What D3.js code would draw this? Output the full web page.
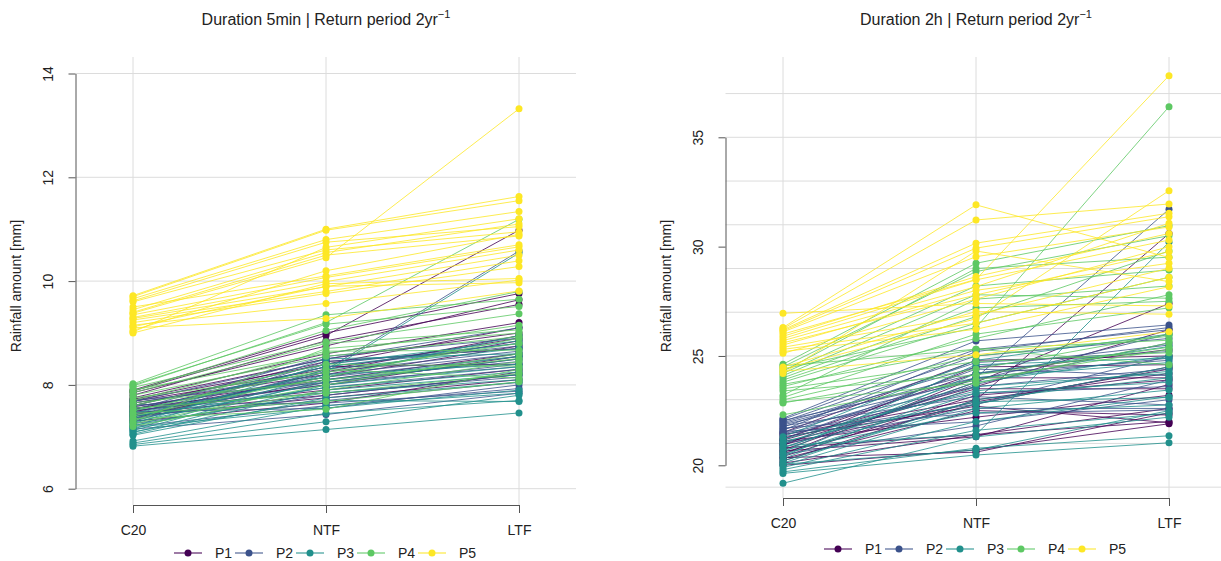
<!DOCTYPE html>
<html>
<head>
<meta charset="utf-8">
<script src="https://cdn.jsdelivr.net/npm/d3@7"></script>
<style>
  body { margin: 0; background: #fff; }
  svg { display: block; font-family: "Liberation Sans", Arial, sans-serif; }
</style>
</head>
<body>
<div id="chart"></div>
<script>
// categories on the x axis and the five groups
const categories = ["C20", "NTF", "LTF"];
const groups = ["P1", "P2", "P3", "P4", "P5"];
const groupColors = ["#440154", "#3B528B", "#21908C", "#5DC863", "#FDE725"];

// Duration 5min: one row per site, [C20, NTF, LTF] in mm
const d5min_P1 = [
  [7.90, 9.00, 9.76], [7.88, 8.95, 10.98], [7.85, 8.75, 9.64], [7.80, 8.85, 9.55], [7.75, 8.60, 9.20],
  [7.72, 8.50, 9.00], [7.70, 8.40, 9.10], [7.68, 8.30, 8.90], [7.65, 8.20, 8.85], [7.60, 8.45, 8.70],
  [7.58, 8.10, 8.60], [7.55, 8.00, 8.55], [7.52, 8.35, 8.40], [7.50, 7.90, 8.30], [7.48, 8.15, 8.75],
  [7.45, 7.80, 8.20], [7.42, 8.05, 8.50], [7.40, 7.75, 8.10], [7.35, 8.25, 8.95], [7.30, 7.65, 8.25]
];
const d5min_P2 = [
  [7.15, 7.43, 7.84], [7.20, 7.60, 7.93], [7.25, 7.80, 8.20], [7.30, 8.29, 10.58], [7.32, 8.45, 8.70],
  [7.35, 7.95, 8.30], [7.38, 8.10, 8.45], [7.40, 7.70, 8.05], [7.42, 8.20, 8.60], [7.45, 8.35, 8.75],
  [7.48, 7.55, 8.00], [7.50, 8.00, 8.40], [7.52, 8.55, 8.90], [7.55, 7.85, 8.15], [7.58, 8.15, 8.55],
  [7.60, 8.40, 8.80], [7.62, 7.65, 7.88], [7.65, 8.25, 8.65], [7.68, 8.50, 9.10], [7.70, 8.05, 8.35]
];
const d5min_P3 = [
  [6.82, 7.14, 7.46], [6.85, 7.29, 7.80], [6.88, 7.45, 7.70], [6.92, 7.60, 7.84], [7.03, 7.75, 8.05],
  [7.05, 7.90, 8.20], [7.08, 8.00, 8.35], [7.10, 7.70, 7.68], [7.12, 8.10, 8.55], [7.15, 8.20, 8.40],
  [7.18, 7.55, 7.90], [7.20, 8.30, 8.70], [7.22, 7.85, 8.10], [7.25, 8.40, 8.85], [7.28, 8.05, 8.50],
  [7.30, 8.25, 10.54], [7.35, 8.50, 8.60], [7.40, 7.95, 8.25], [7.45, 8.15, 8.95], [7.50, 8.35, 8.80]
];
const d5min_P4 = [
  [8.02, 9.35, 9.65], [8.00, 9.17, 9.51], [7.98, 9.20, 11.19], [7.95, 8.83, 9.37], [7.90, 8.61, 9.15],
  [7.85, 8.80, 9.06], [7.80, 8.55, 8.93], [7.75, 8.24, 8.80], [7.70, 8.65, 8.67], [7.65, 8.09, 8.51],
  [7.60, 8.40, 8.36], [7.55, 7.84, 8.22], [7.50, 8.30, 8.13], [7.45, 7.68, 8.06], [7.40, 8.15, 8.90],
  [7.35, 7.53, 8.30], [7.30, 8.70, 9.00], [7.25, 8.00, 8.60], [7.20, 7.90, 8.45], [7.88, 9.05, 9.80]
];
const d5min_P5 = [
  [9.72, 11.00, 11.63], [9.70, 10.98, 11.55], [9.66, 10.80, 11.34], [9.62, 10.75, 11.05], [9.60, 10.60, 10.95],
  [9.45, 10.55, 11.10], [9.40, 10.50, 10.87], [9.38, 10.45, 13.32], [9.35, 10.07, 10.66], [9.30, 9.99, 10.60],
  [9.28, 9.89, 10.50], [9.25, 9.80, 10.39], [9.20, 9.76, 10.28], [9.15, 9.57, 10.02], [9.12, 9.90, 9.97],
  [9.10, 9.28, 9.81], [9.05, 10.20, 10.90], [9.02, 10.65, 11.20], [9.50, 10.10, 10.70], [9.00, 9.95, 10.05]
];

// Duration 2h
const d2h_P1 = [
  [20.00, 20.70, 21.90], [20.10, 21.39, 22.00], [20.20, 22.99, 30.60], [20.30, 22.50, 22.30], [20.40, 23.20, 23.90],
  [20.50, 24.00, 24.00], [20.60, 22.80, 24.50], [20.70, 23.80, 27.40], [20.80, 21.40, 22.60], [20.90, 24.50, 24.60],
  [21.00, 23.50, 23.50], [21.10, 22.20, 23.20], [21.20, 24.20, 25.30], [21.30, 22.70, 21.95], [21.40, 23.00, 24.20],
  [21.50, 24.80, 25.00], [20.35, 20.60, 22.40], [20.65, 21.30, 23.70], [20.95, 22.90, 24.40], [21.15, 23.60, 26.20]
];
const d2h_P2 = [
  [22.15, 25.69, 26.42], [22.10, 25.30, 26.20], [22.05, 24.00, 31.71], [22.00, 25.00, 25.80], [21.95, 24.50, 25.50],
  [21.90, 24.20, 24.80], [21.85, 23.90, 26.00], [21.80, 23.14, 22.76], [21.75, 24.70, 25.20], [21.70, 22.38, 22.53],
  [21.65, 23.60, 24.40], [21.60, 25.20, 26.30], [21.55, 21.99, 23.00], [21.50, 24.00, 24.90], [21.45, 23.30, 23.60],
  [21.40, 22.80, 25.00], [21.20, 24.40, 24.10], [21.00, 22.60, 22.60], [20.80, 23.70, 25.60], [20.50, 21.80, 23.90]
];
const d2h_P3 = [
  [19.18, 21.30, 22.20], [19.63, 20.47, 21.03], [19.70, 20.78, 21.35], [19.80, 21.60, 22.38], [19.90, 22.00, 23.14],
  [20.00, 22.60, 23.44], [20.10, 23.00, 24.00], [20.20, 22.80, 24.50], [20.30, 23.60, 24.20], [20.40, 24.20, 25.43],
  [20.50, 23.30, 23.80], [20.60, 24.60, 24.90], [20.70, 22.40, 22.76], [20.80, 23.80, 25.00], [20.90, 21.40, 30.20],
  [21.00, 24.00, 24.70], [21.10, 22.90, 23.10], [21.20, 23.40, 24.30], [21.30, 24.80, 26.00], [20.05, 20.70, 22.50]
];
const d2h_P4 = [
  [24.62, 29.24, 30.96], [24.50, 28.86, 30.50], [24.40, 26.30, 36.40], [24.30, 29.00, 29.52], [24.20, 28.20, 28.93],
  [24.10, 27.80, 27.64], [24.00, 27.20, 27.50], [23.90, 26.80, 29.80], [23.80, 26.50, 28.60], [23.70, 25.31, 25.72],
  [23.60, 25.80, 27.80], [23.50, 24.74, 25.15], [23.40, 24.13, 25.40], [23.20, 27.60, 28.20], [23.10, 26.00, 27.20],
  [22.99, 25.00, 25.90], [22.90, 23.75, 25.60], [22.85, 24.40, 26.00], [22.31, 23.90, 25.30], [24.55, 25.31, 24.60]
];
const d2h_P5 = [
  [26.95, 27.40, 27.29], [26.30, 31.91, 29.50], [26.25, 31.22, 31.95], [26.20, 30.16, 31.53], [26.15, 29.93, 31.37],
  [26.10, 29.54, 30.90], [26.00, 28.50, 37.82], [25.90, 28.63, 30.60], [25.80, 28.48, 30.30], [25.70, 28.17, 31.07],
  [25.60, 27.79, 29.77], [25.50, 28.00, 29.24], [25.40, 26.88, 29.01], [25.30, 26.50, 28.60], [25.20, 26.22, 28.17],
  [25.12, 27.60, 30.00], [24.50, 27.03, 26.91], [24.40, 26.70, 32.56], [24.30, 25.05, 26.11], [24.20, 29.80, 28.40]
];

// axis ticks / grid values per panel
const ticks5min = [6, 8, 10, 12, 14];
const grid5min = [6, 8, 10, 12, 14];
const ticks2h = [20, 25, 30, 35];
const grid2h = [19, 21, 23, 25, 27, 29, 31, 33, 35, 37];

const W = 1221, H = 561;
const svg = d3.select("#chart").append("svg")
    .attr("width", W)
    .attr("height", H);

const panels = [
    {
        dx: 0, dur: "5min",
        data: [d5min_P1, d5min_P2, d5min_P3, d5min_P4, d5min_P5],
        domain: [6, 14], range: [488.7, 73.5],
        ticks: ticks5min, grid: grid5min,
        xAxisY: 505, legendY: 553
    },
    {
        dx: 650, dur: "2h",
        data: [d2h_P1, d2h_P2, d2h_P3, d2h_P4, d2h_P5],
        domain: [20, 35], range: [465.3, 137.3],
        ticks: ticks2h, grid: grid2h,
        xAxisY: 498, legendY: 549
    }
];

panels.forEach(p => {
    const g = svg.append("g").attr("transform", `translate(${p.dx},0)`);
    const axisX = 75.5, gridRight = 576, top = 57;

    const x = d3.scalePoint().domain(categories).range([133, 519]);
    const y = d3.scaleLinear().domain(p.domain).range(p.range);

    // grid
    g.append("g").selectAll("line")
        .data(p.grid)
        .join("line")
        .attr("x1", axisX).attr("x2", gridRight)
        .attr("y1", d => y(d)).attr("y2", d => y(d))
        .attr("stroke", "#dcdcdc").attr("stroke-width", 1);
    g.append("g").selectAll("line")
        .data(categories)
        .join("line")
        .attr("x1", d => x(d)).attr("x2", d => x(d))
        .attr("y1", top).attr("y2", p.xAxisY)
        .attr("stroke", "#dcdcdc").attr("stroke-width", 1);

    // y axis, labels turned like R's las=0
    const yAxis = g.append("g")
        .attr("transform", `translate(${axisX},0)`)
        .call(d3.axisLeft(y).tickValues(p.ticks).tickSize(7).tickSizeOuter(0));
    yAxis.select(".domain").attr("stroke", "#555");
    yAxis.selectAll(".tick line").attr("stroke", "#555");
    yAxis.selectAll(".tick text")
        .attr("font-size", 14).attr("fill", "#222")
        .attr("text-anchor", "middle")
        .attr("x", 0).attr("y", 0).attr("dy", 0)
        .attr("transform", "translate(-23,0) rotate(-90)");

    // x axis
    const xAxis = g.append("g")
        .attr("transform", `translate(0,${p.xAxisY})`)
        .call(d3.axisBottom(x).tickSize(8).tickSizeOuter(0).tickPadding(12));
    xAxis.select(".domain").attr("stroke", "#555");
    xAxis.selectAll(".tick line").attr("stroke", "#555");
    xAxis.selectAll(".tick text").attr("font-size", 14).attr("fill", "#222");

    // lines + points, group by group
    const line = d3.line().x((d, i) => x(categories[i])).y(d => y(d));
    p.data.forEach((rows, gi) => {
        const gg = g.append("g");
        gg.selectAll("path")
            .data(rows)
            .join("path")
            .attr("d", line)
            .attr("fill", "none")
            .attr("stroke", groupColors[gi])
            .attr("stroke-opacity", 0.8)
            .attr("stroke-width", 1);
        gg.selectAll("circle")
            .data(rows.flatMap(r => r.map((v, i) => ({cat: categories[i], v}))))
            .join("circle")
            .attr("cx", d => x(d.cat))
            .attr("cy", d => y(d.v))
            .attr("r", 3.5)
            .attr("fill", groupColors[gi]);
    });

    // y title
    g.append("text")
        .attr("transform", `translate(${axisX - 55},286) rotate(-90)`)
        .attr("text-anchor", "middle")
        .attr("font-size", 14).attr("fill", "#222")
        .text("Rainfall amount [mm]");

    // title
    const t = g.append("text")
        .attr("x", x("NTF")).attr("y", 25)
        .attr("text-anchor", "middle")
        .attr("font-size", 16).attr("fill", "#222");
    t.append("tspan").text(`Duration ${p.dur} | Return period 2yr`);
    t.append("tspan").attr("font-size", 11).attr("dy", -7).text("\u22121");

    // legend
    const leg = g.append("g").attr("transform", `translate(0,${p.legendY})`);
    groups.forEach((name, i) => {
        const tx = 215 + i * 61;
        leg.append("line")
            .attr("x1", tx - 41).attr("x2", tx - 13)
            .attr("stroke", groupColors[i]).attr("stroke-opacity", 0.8).attr("stroke-width", 1.3);
        leg.append("circle").attr("cx", tx - 27).attr("r", 3.5).attr("fill", groupColors[i]);
        leg.append("text").attr("x", tx).attr("dy", "0.35em")
            .attr("font-size", 14).attr("fill", "#222").text(name);
    });
});
</script>
</body>
</html>
